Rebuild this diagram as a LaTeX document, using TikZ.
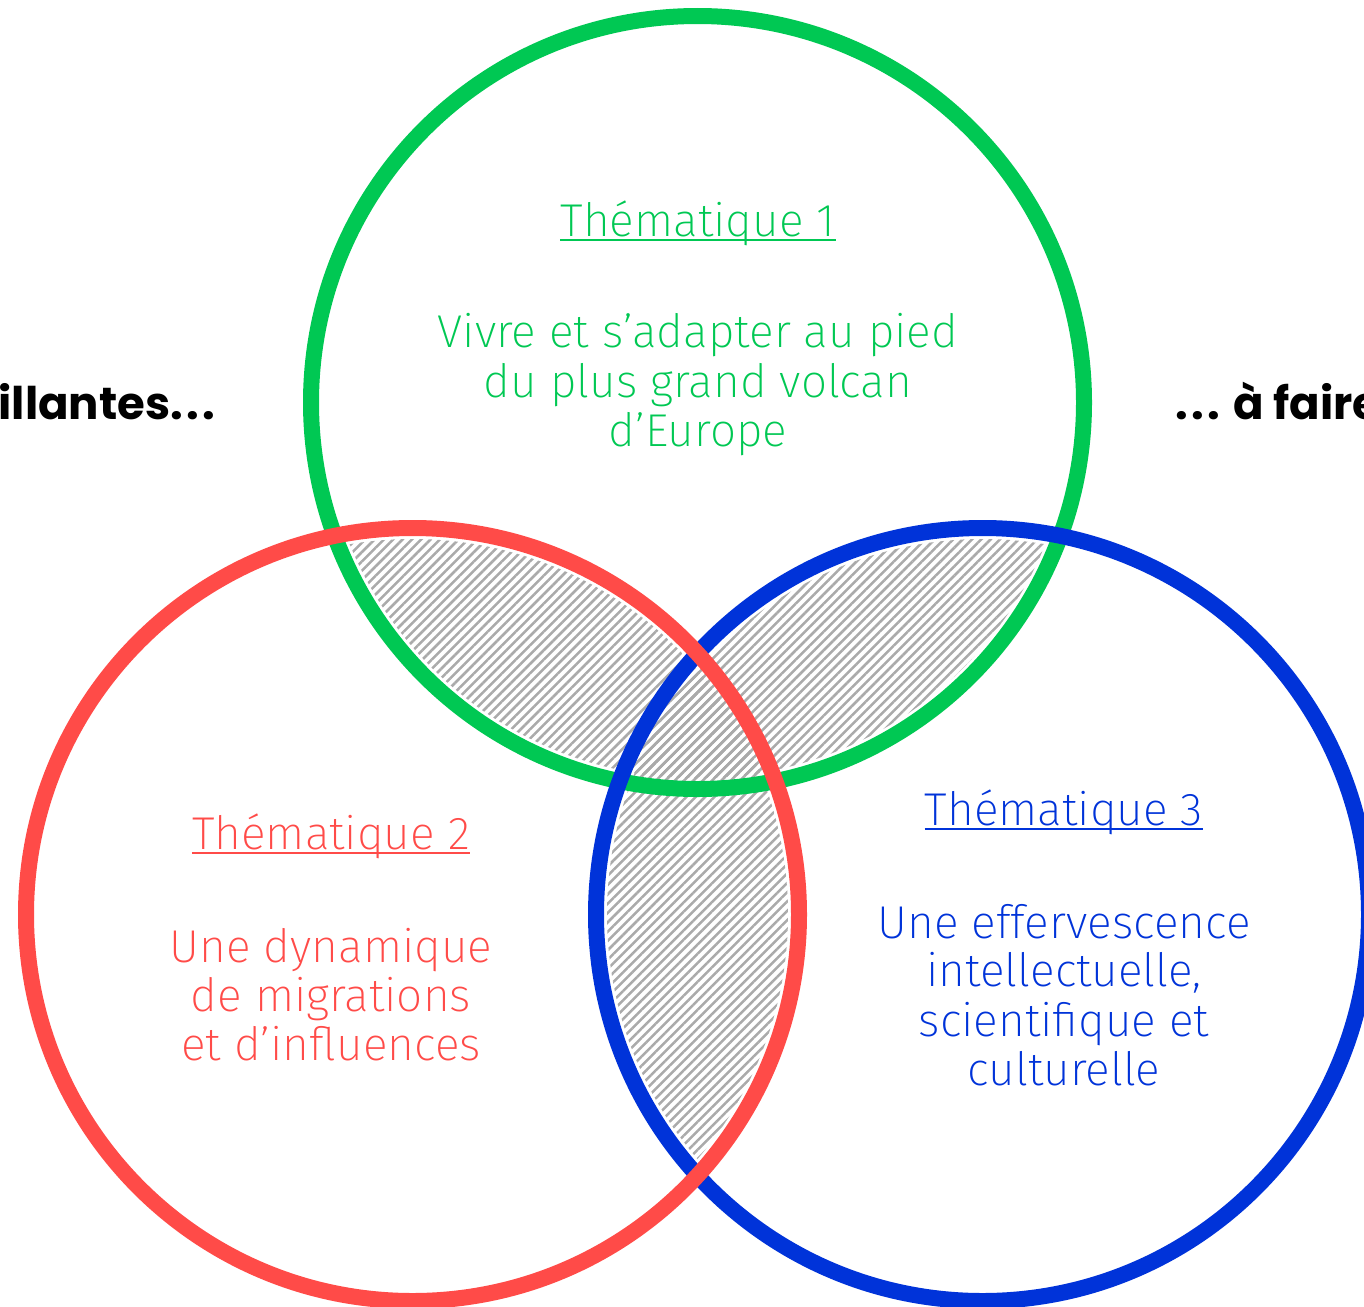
\documentclass[tikz,border=0pt]{standalone}
\usepackage{fontspec}
\IfFontExistsTF{Fira Sans ExtraLight}{\setmainfont{Fira Sans ExtraLight}}{%
  \IfFontExistsTF{Fira Sans Light}{\setmainfont{Fira Sans Light}}{%
    \IfFontExistsTF{Lato Light}{\setmainfont{Lato Light}}{\setmainfont{Fira Sans}}}}
\IfFontExistsTF{Poppins Bold}{\newfontfamily\boldfont{Poppins Bold}}{%
  \IfFontExistsTF{Fira Sans Bold}{\newfontfamily\boldfont{Fira Sans Bold}}{\newfontfamily\boldfont{Fira Sans}[FakeBold=2]}}
\usetikzlibrary{patterns.meta}
\definecolor{cgreen}{RGB}{0,200,83}
\definecolor{cred}{RGB}{255,75,72}
\definecolor{cblue}{RGB}{0,51,217}
\definecolor{chatch}{RGB}{170,170,170}
\newcommand{\spdots}{.\kern1.8pt.\kern1.8pt.}
\begin{document}
\begin{tikzpicture}[x=0.5pt,y=-0.5pt,
  ring/.style={line width=8pt},
  hatch/.style={pattern={Lines[angle=45,distance=3.3pt,line width=1.25pt]},pattern color=chatch},
  txt/.style={inner sep=0pt,anchor=base,font=\fontsize{23}{27}\selectfont},
  uline/.style={line width=0.9pt},
  side/.style={inner sep=0pt,font=\boldfont\fontsize{22.5}{26}\selectfont}]
\useasboundingbox (0,0) rectangle (1364,1306);
\clip (0,0) rectangle (1364,1306);
\fill[white] (0,0) rectangle (1364,1306);
\coordinate (G) at (697.5,402.5);
\coordinate (R) at (412.5,914.5);
\coordinate (B) at (982.5,914.5);
% hatched overlaps (slightly inset from the rings)
\begin{scope}
  \clip (G) circle (375.5);
  \fill[hatch] (R) circle (375.5);
  \fill[hatch] (B) circle (375.5);
\end{scope}
\begin{scope}
  \clip (R) circle (375.5);
  \fill[hatch] (B) circle (375.5);
\end{scope}
% rings
\draw[ring,cgreen] (G) circle (386.5);
\draw[ring,cblue] (B) circle (386.5);
\draw[ring,cred] (R) circle (386.5);
% green texts
\begin{scope}[cgreen]
\node[txt] (g0) at (698,236) {Thématique 1};
\draw[uline] ([yshift=-2pt]g0.base west) -- ([yshift=-2pt]g0.base east);
\node[txt] (g1) at (698,347) {Vivre et s’adapter au pied};
\node[txt] (g2) at (698,397) {du plus grand volcan};
\node[txt] (g3) at (698,446) {d’Europe};
\end{scope}
% red texts
\begin{scope}[cred]
\node[txt] (r0) at (331,849) {Thématique 2};
\draw[uline] ([yshift=-2pt]r0.base west) -- ([yshift=-2pt]r0.base east);
\node[txt] (r1) at (331,962) {Une dynamique};
\node[txt] (r2) at (331,1011) {de migrations};
\node[txt] (r3) at (331,1060) {et d’influences};
\end{scope}
% blue texts
\begin{scope}[cblue]
\node[txt] (b0) at (1064,825) {Thématique 3};
\draw[uline] ([yshift=-2pt]b0.base west) -- ([yshift=-2pt]b0.base east);
\node[txt] (b1) at (1064,938) {Une effervescence};
\node[txt] (b2) at (1064,986) {intellectuelle,};
\node[txt] (b3) at (1064,1036) {scientifique et};
\node[txt] (b4) at (1064,1085) {culturelle};
\end{scope}
% side texts
\node[side,anchor=base east] (lt) at (216,419) {aillantes\spdots};
\node[side,anchor=base west] (rt) at (1175,419) {\spdots{} à faire};
\end{tikzpicture}
\end{document}
